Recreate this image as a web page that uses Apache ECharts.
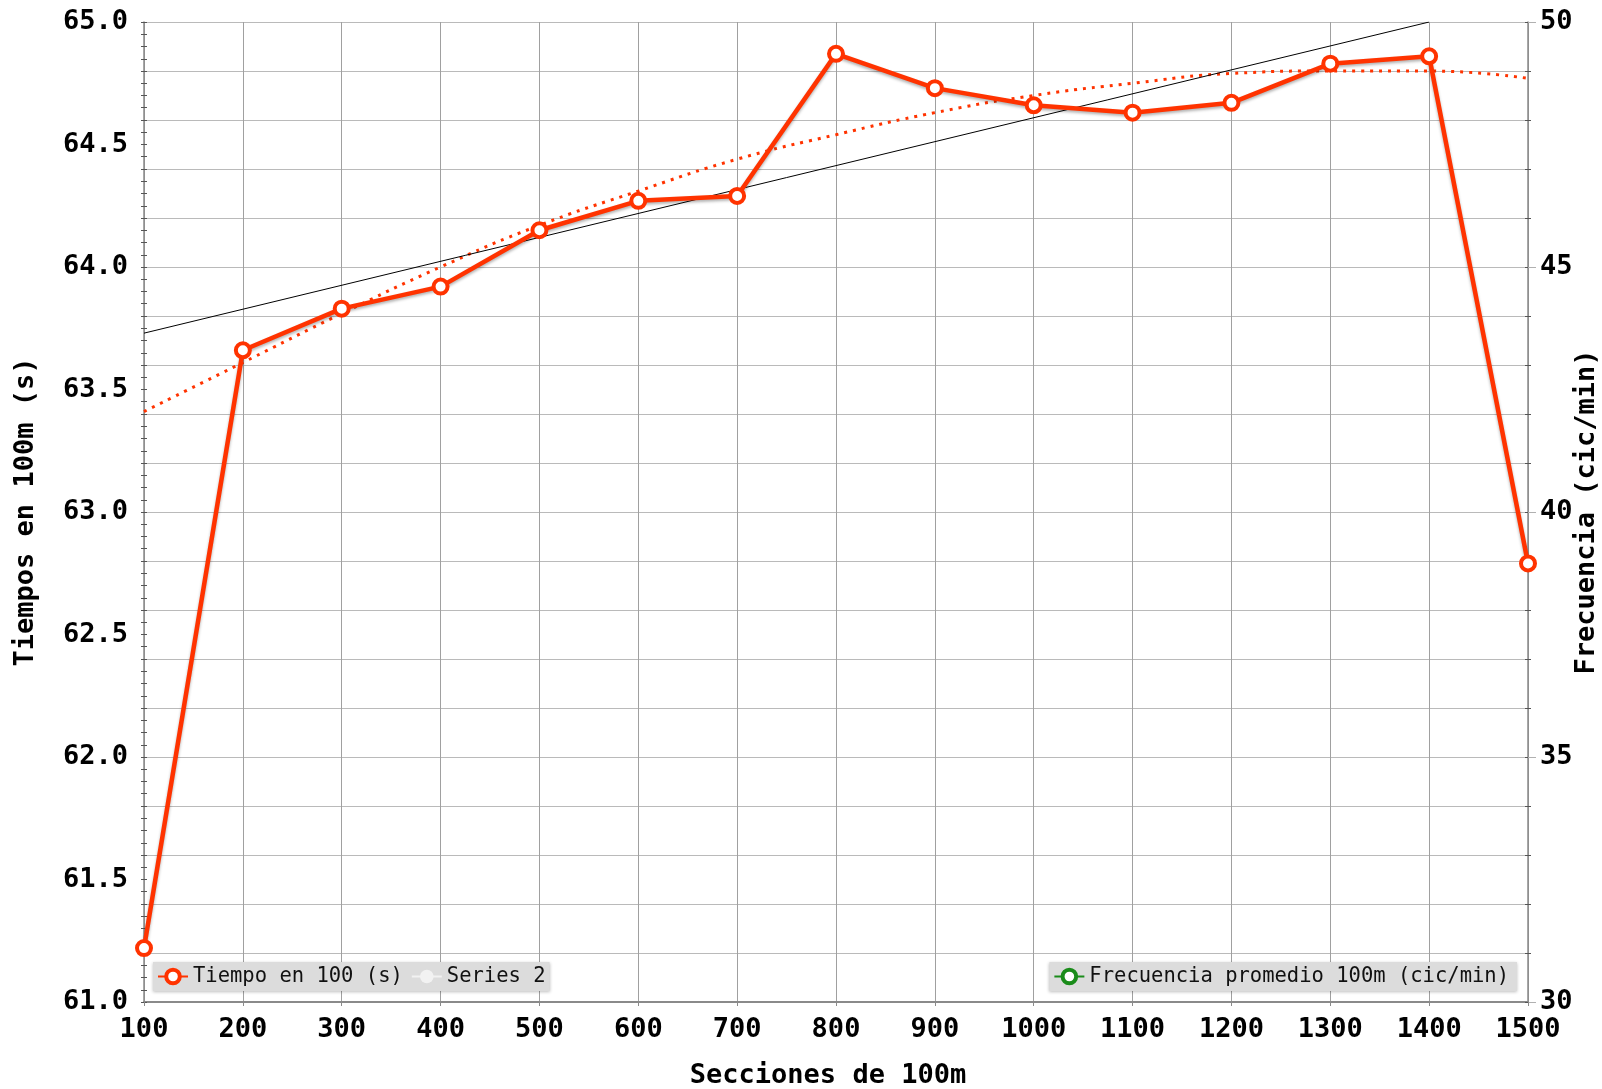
<!DOCTYPE html>
<html>
<head>
<meta charset="utf-8">
<script src="https://cdn.jsdelivr.net/npm/echarts@6/dist/echarts.min.js"></script>
<style>html,body{margin:0;padding:0;background:#fff;}#c{width:1602px;height:1089px;}</style>
</head>
<body>
<div id="c"></div>
<script>
const secciones = [100,200,300,400,500,600,700,800,900,1000,1100,1200,1300,1400,1500];
const tiempos = [61.22,63.66,63.83,63.92,64.15,64.27,64.29,64.87,64.73,64.66,64.63,64.67,64.83,64.86,62.79];
const tendenciaPoli = [63.41,63.61,63.81,64.00,64.17,64.31,64.44,64.54,64.63,64.70,64.75,64.79,64.80,64.80,64.77];
const serie2X = [100,1400];
const serie2Y = [63.73,65.00];
const frecuencia = [];
const leftTicks = {min:61, max:65, step:0.5};
const rightTicks = {min:30, max:50, step:1, labelStep:5};

const FONT = 'DejaVu Sans Mono';
const RED = '#ff3300';
const chart = echarts.init(document.getElementById('c'));
const axisGray = '#8a8a8a';

chart.setOption({
  animation:false,
  backgroundColor:'#fff',
  grid:{left:144, right:74, top:22, bottom:87, containLabel:false, outerBoundsMode:'none'},
  legend:[
    {data:[{name:'Tiempo en 100 (s)', itemStyle:{borderWidth:4}},{name:'Series 2', itemStyle:{color:'#f2f2f2'}, lineStyle:{color:'#f2f2f2', width:2}}],
     left:153, top:962, orient:'horizontal', backgroundColor:'#dcdcdc', padding:[4,4,4,4], itemGap:8, itemWidth:30, itemHeight:17,
     textStyle:{fontFamily:FONT, fontSize:20.5, color:'#111'},
     shadowColor:'rgba(0,0,0,0.25)', shadowBlur:3, shadowOffsetY:1},
    {data:[{name:'Frecuencia promedio 100m (cic/min)', itemStyle:{borderWidth:4}}],
     right:85, top:962, backgroundColor:'#dcdcdc', padding:[4,8,4,4], itemWidth:30, itemHeight:17,
     textStyle:{fontFamily:FONT, fontSize:20.5, color:'#111'},
     shadowColor:'rgba(0,0,0,0.25)', shadowBlur:3, shadowOffsetY:1}
  ],
  xAxis:{
    type:'value', min:100, max:1500, interval:100,
    name:'Secciones de 100m', nameLocation:'middle', nameGap:60, nameMoveOverlap:false,
    nameTextStyle:{fontFamily:FONT, fontWeight:'bold', fontSize:27, color:'#000', padding:[0,16,0,0]},
    axisLine:{show:true, lineStyle:{color:axisGray, width:2}},
    axisTick:{show:true, length:4, lineStyle:{color:axisGray}},
    axisLabel:{fontFamily:FONT, fontWeight:'bold', fontSize:27, color:'#000', margin:14, formatter:v=>String(v)},
    splitLine:{show:true, lineStyle:{color:'#a0a0a0', width:1}}
  },
  yAxis:[
    {type:'value', position:'left', min:leftTicks.min, max:leftTicks.max, interval:leftTicks.step,
     name:'Tiempos en 100m (s)', nameLocation:'middle', nameGap:105, nameRotate:90, nameMoveOverlap:false,
     nameTextStyle:{fontFamily:FONT, fontWeight:'bold', fontSize:27, color:'#000'},
     axisLine:{show:true, lineStyle:{color:axisGray, width:1.5}},
     axisTick:{show:true, length:3, lineStyle:{color:'#555'}},
     minorTick:{show:true, splitNumber:10, length:3, lineStyle:{color:'#555'}},
     axisLabel:{fontFamily:FONT, fontWeight:'bold', fontSize:27, color:'#000', margin:16, formatter:v=>v.toFixed(1)},
     splitLine:{show:false}},
    {type:'value', position:'right', min:rightTicks.min, max:rightTicks.max, interval:rightTicks.step,
     name:'Frecuencia (cic/min)', nameLocation:'middle', nameGap:45, nameRotate:90, nameMoveOverlap:false,
     nameTextStyle:{fontFamily:FONT, fontWeight:'bold', fontSize:27, color:'#000'},
     axisLine:{show:true, lineStyle:{color:axisGray, width:1.5}},
     axisTick:{show:true, length:3, lineStyle:{color:'#555'}},
     axisLabel:{fontFamily:FONT, fontWeight:'bold', fontSize:27, color:'#000', margin:12,
       formatter:v=> (v % rightTicks.labelStep === 0 ? String(v) : '')},
     splitLine:{show:true, lineStyle:{color:'#bababa', width:1}}},
    {type:'value', position:'left', min:leftTicks.min, max:leftTicks.max, interval:leftTicks.step,
     axisLine:{show:false}, axisLabel:{show:false}, splitLine:{show:false},
     axisTick:{show:true, inside:true, length:3, lineStyle:{color:'#555'}},
     minorTick:{show:true, splitNumber:10, length:3, lineStyle:{color:'#555'}}},
    {type:'value', position:'right', min:rightTicks.min, max:rightTicks.max, interval:rightTicks.step,
     axisLine:{show:false}, axisLabel:{show:false}, splitLine:{show:false},
     axisTick:{show:true, inside:true, length:3, lineStyle:{color:'#555'}}},
    {type:'value', position:'right', min:rightTicks.min, max:rightTicks.max, interval:rightTicks.labelStep,
     axisLine:{show:false}, axisLabel:{show:false}, splitLine:{show:false},
     axisTick:{show:true, length:8, lineStyle:{color:'#b0b0b0'}}}
  ],
  series:[
    {name:'Tendencia', type:'line', yAxisIndex:0, smooth:true, showSymbol:false, silent:true,
     data:secciones.map((x,i)=>[x,tendenciaPoli[i]]),
     lineStyle:{color:RED, width:3, type:[3,6]}, z:2},
    {name:'Series 2', type:'line', yAxisIndex:0, showSymbol:false, symbol:'circle', symbolSize:3,
     data:serie2X.map((x,i)=>[x,serie2Y[i]]),
     itemStyle:{color:'#000'}, lineStyle:{color:'#000', width:1}, z:3},
    {name:'Tiempo en 100 (s)', type:'line', yAxisIndex:0, symbol:'circle', symbolSize:14,
     data:secciones.map((x,i)=>[x,tiempos[i]]),
     itemStyle:{color:'#fff', borderColor:RED, borderWidth:4},
     lineStyle:{color:RED, width:4.5, shadowColor:'rgba(0,0,0,0.3)', shadowBlur:3, shadowOffsetY:2}, z:4},
    {name:'Frecuencia promedio 100m (cic/min)', type:'line', yAxisIndex:1, symbol:'circle', symbolSize:11,
     data:frecuencia,
     itemStyle:{color:'#fff', borderColor:'#1a8c1a', borderWidth:4},
     lineStyle:{color:'#1a8c1a', width:4}}
  ]
});
</script>
</body>
</html>
